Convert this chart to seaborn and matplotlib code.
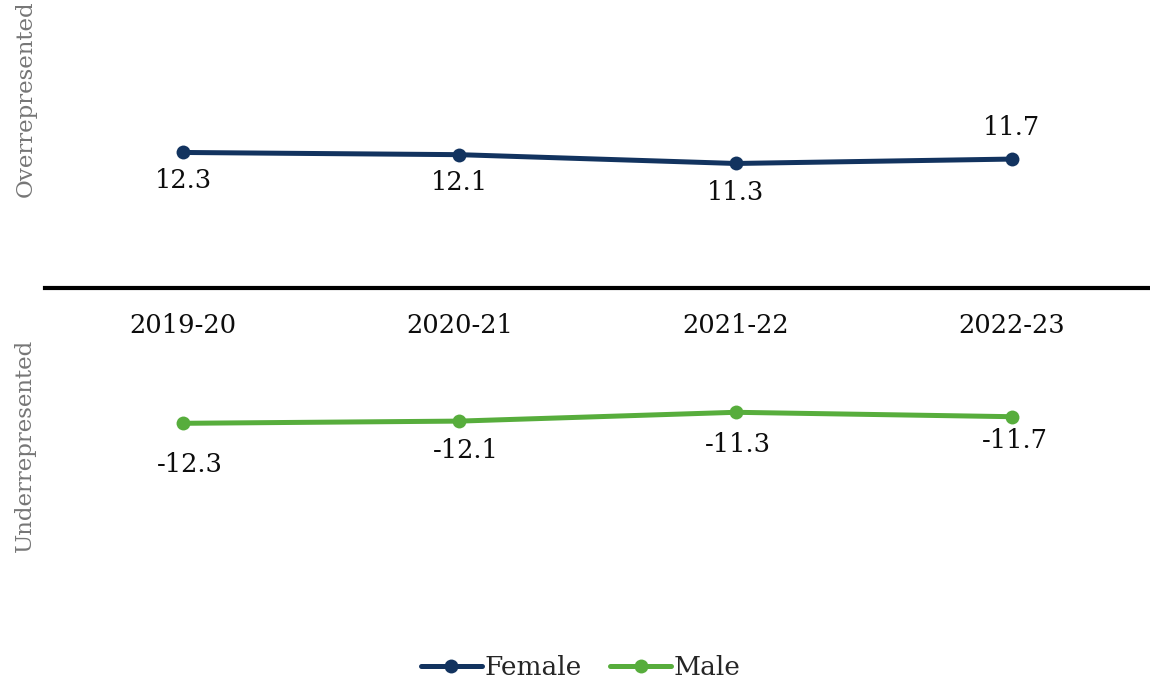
import matplotlib
matplotlib.use("Agg")
import matplotlib.pyplot as plt
import seaborn as sns
import pandas as pd

years = ["2019-20", "2020-21", "2021-22", "2022-23"]
female = [12.3, 12.1, 11.3, 11.7]
male = [-12.3, -12.1, -11.3, -11.7]
series_names = ["Female", "Male"]
colors = ["#12335F", "#57AD3C"]

# label offsets in points (dx, dy) for each point
female_offsets = [(0, -20), (0, -20), (0, -21), (0, 23)]
male_offsets = [(5, -30), (5, -21), (2, -23), (2, -17)]

sns.set_theme(style="white")
plt.rcParams["font.family"] = ["DejaVu Serif"]

df = pd.DataFrame({
    "year": years * 2,
    "value": female + male,
    "series": [series_names[0]] * len(years) + [series_names[1]] * len(years),
})
df["pos"] = list(range(len(years))) * 2

fig = plt.figure(figsize=(11.5, 6.83), dpi=100)
ax = fig.add_axes([0.039, 0.1755, 0.961, 0.806])

sns.lineplot(data=df, x="pos", y="value", hue="series", palette=colors,
             marker="o", markersize=10, markeredgewidth=0, linewidth=3.6,
             ax=ax, legend=False, sort=False)

ax.set_xlim(-0.5, 3.5)
ax.set_ylim(-25, 25)

for vals, offs in [(female, female_offsets), (male, male_offsets)]:
    for i, (v, off) in enumerate(zip(vals, offs)):
        ax.annotate(f"{v:.1f}", xy=(i, v), xytext=off, textcoords="offset points",
                    ha="center", va="center", fontsize=18.5, color="#0d0d0d")

# zero baseline as the category axis
for s in ["top", "right", "left"]:
    ax.spines[s].set_visible(False)
ax.spines["bottom"].set_position(("data", 0))
ax.spines["bottom"].set_linewidth(3)
ax.spines["bottom"].set_color("black")
ax.set_xticks(range(len(years)))
ax.set_xticklabels(years, fontsize=18.5, color="#0d0d0d")
ax.tick_params(axis="x", length=0, pad=18)
ax.set_yticks([])
ax.set_xlabel("")
ax.set_ylabel("")

fig.text(0.022, 0.855, "Overrepresented", rotation=90, ha="center", va="center",
         fontsize=16.5, color="#767676")
fig.text(0.022, 0.348, "Underrepresented", rotation=90, ha="center", va="center",
         fontsize=16.5, color="#767676")

handles = [plt.Line2D([], [], color=c, marker="o", markersize=10, linewidth=3.6,
                      markeredgewidth=0) for c in colors]
fig.legend(handles, series_names, loc="center", bbox_to_anchor=(0.505, 0.023),
           ncol=2, frameon=False, fontsize=19, handlelength=2.3,
           handletextpad=0.1, columnspacing=1.1)

fig.savefig("out.png", dpi=100)
